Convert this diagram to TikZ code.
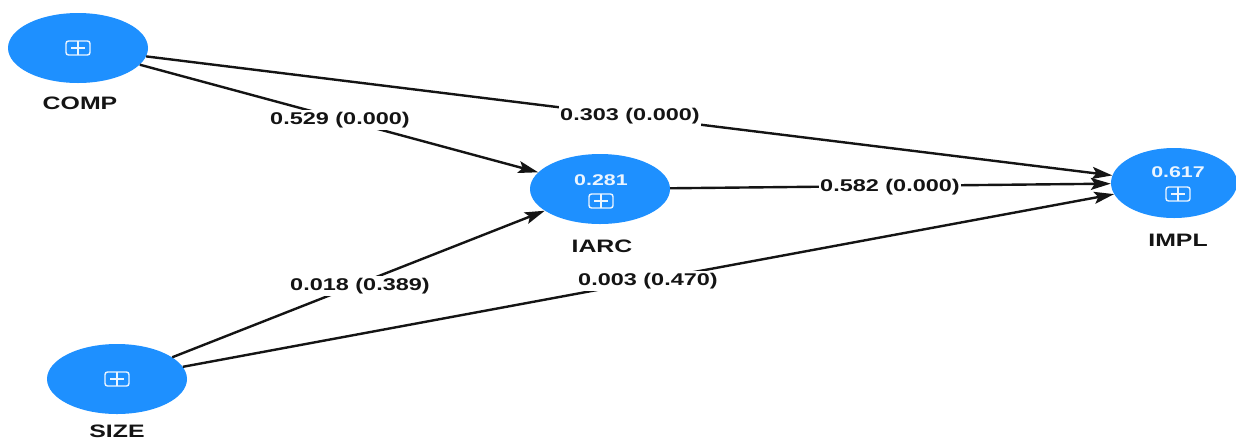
\documentclass[tikz,border=0pt]{standalone}
\usepackage{fontspec}
\setmainfont{Liberation Sans}
\usetikzlibrary{shapes.geometric,arrows.meta}
\definecolor{nodeblue}{RGB}{30,144,255}
\definecolor{inktext}{RGB}{20,20,20}
\definecolor{valwhite}{RGB}{235,245,255}
\newcommand{\widetext}[1]{\scalebox{1.38}[1]{#1}}
\tikzset{
  latent/.style={ellipse, fill=nodeblue, draw=none, minimum width=140pt, minimum height=70pt, inner sep=0pt},
  namelab/.style={inner sep=0pt, text=inktext, font=\fontsize{18}{20}\selectfont\bfseries},
  vallab/.style={inner sep=0pt, text=valwhite, font=\fontsize{15.5}{18}\selectfont\bfseries},
  pathlab/.style={fill=white, inner xsep=1pt, inner ysep=2pt, text=inktext, font=\fontsize{17}{20}\selectfont\bfseries},
  iconbox/.style={draw=valwhite, line width=1.4pt, rounded corners=2.5pt, minimum width=24pt, minimum height=14pt, inner sep=0pt,
    path picture={
      \draw[valwhite, line width=1.4pt] ([xshift=5pt]path picture bounding box.west) -- ([xshift=-5pt]path picture bounding box.east);
      \draw[valwhite, line width=1.4pt] (path picture bounding box.north) -- (path picture bounding box.south);
    }},
  effect/.style={draw=inktext, line width=2.4pt, -{Stealth[length=20pt,width=12pt,inset=4pt]}}
}
\begin{document}
\begin{tikzpicture}[x=1pt, y=-1pt]
\useasboundingbox (0,0) rectangle (1236,440);
\fill[white] (0,0) rectangle (1236,440);

\node[latent] (comp) at (78,48) {};
\node[latent] (iarc) at (600,189) {};
\node[latent, minimum width=126pt] (impl) at (1174,183) {};
\node[latent] (size) at (117,379) {};

\node[iconbox] (compicon) at (78,48) {};
\node[iconbox] (sizeicon) at (117,379) {};
\node[vallab] (iarcval) at (601,180) {\widetext{0.281}};
\node[iconbox] (iarcicon) at (601,201) {};
\node[vallab] (implval) at (1178,172) {\widetext{0.617}};
\node[iconbox] (implicon) at (1178,194) {};

\node[namelab] (compname) at (80,103) {\widetext{COMP}};
\node[namelab] (iarcname) at (602,246) {\widetext{IARC}};
\node[namelab] (implname) at (1178,240) {\widetext{IMPL}};
\node[namelab] (sizename) at (117,431) {\widetext{SIZE}};

\draw[effect] (comp) -- (impl);
\draw[effect] (comp) -- (iarc);
\draw[effect] (iarc) -- (impl);
\draw[effect] (size) -- (iarc);
\draw[effect] (size) -- (impl);

\node[pathlab] (l1) at (340,120) {\widetext{0.529 (0.000)}};
\node[pathlab] (l2) at (630,116) {\widetext{0.303 (0.000)}};
\node[pathlab] (l3) at (890,187) {\widetext{0.582 (0.000)}};
\node[pathlab] (l4) at (360,286) {\widetext{0.018 (0.389)}};
\node[pathlab] (l5) at (648,281) {\widetext{0.003 (0.470)}};
\end{tikzpicture}
\end{document}
